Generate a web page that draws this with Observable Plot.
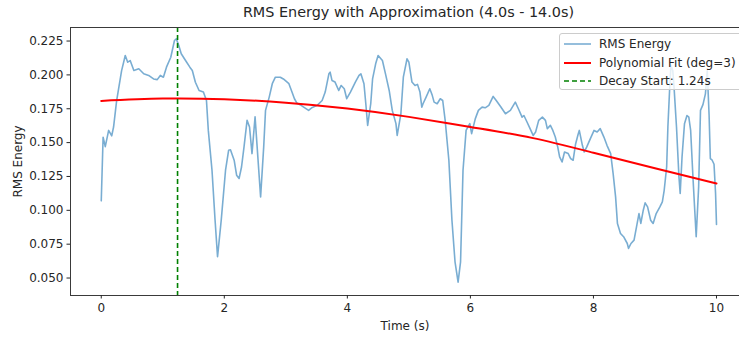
<!DOCTYPE html>
<html>
<head>
<meta charset="utf-8">
<script src="https://cdn.jsdelivr.net/npm/d3@7"></script>
<script src="https://cdn.jsdelivr.net/npm/@observablehq/plot@0.6"></script>
<style>
  html, body { margin: 0; padding: 0; background: #fff; }
  #wrap { position: relative; width: 739px; height: 338px; overflow: hidden; font-family: "DejaVu Sans", sans-serif; }
  #title { height: 20px; line-height: 24px; text-align: center; font-size: 14.4px; color: #262626; padding-left: 78px; box-sizing: border-box; white-space: nowrap; }
  #legend { position: absolute; left: 559px; top: 33px; width: 200px; height: 57px; background: rgba(255,255,255,0.8); border: 1px solid #cccccc; border-radius: 3px; box-sizing: border-box; font-size: 12px; color: #262626; }
  .row { position: absolute; left: 0; height: 18px; display: flex; align-items: center; white-space: nowrap; }
  .row svg { margin-left: 4px; margin-right: 8px; }
</style>
</head>
<body>
<div id="wrap">
  <div id="title"></div>
  <div id="chart"></div>
  <div id="legend"></div>
</div>
<script>
const titleText = "RMS Energy with Approximation (4.0s - 14.0s)";
const xLabel = "Time (s)";
const yLabel = "RMS Energy";
const xTicks = [0, 2, 4, 6, 8, 10];
const yTicks = [0.05, 0.075, 0.1, 0.125, 0.15, 0.175, 0.2, 0.225];
const xDomain = [-0.5, 10.374];
const yDomain = [0.0371, 0.235];
const decayStart = 1.24;
const legendLabels = ["RMS Energy", "Polynomial Fit (deg=3)", "Decay Start: 1.24s"];

// RMS energy
const rmsTime = [
  0.00,0.03,0.065,0.12,0.17,0.20,0.25,0.33,0.39,0.43,0.47,0.53,0.61,0.69,0.77,0.85,0.91,0.96,1.01,1.06,
  1.13,1.19,1.22,1.26,1.30,1.37,1.44,1.48,1.53,1.59,1.66,1.71,1.74,1.80,1.85,1.89,1.95,2.02,2.07,2.10,
  2.16,2.20,2.24,2.28,2.32,2.37,2.41,2.45,2.50,2.59,2.64,2.67,2.73,2.78,2.83,2.91,2.96,3.05,3.10,3.14,
  3.18,3.23,3.29,3.37,3.43,3.51,3.59,3.64,3.70,3.72,3.75,3.80,3.86,3.90,3.95,3.99,4.05,4.13,4.19,4.22,
  4.27,4.30,4.33,4.38,4.41,4.46,4.50,4.57,4.62,4.68,4.73,4.79,4.81,4.87,4.91,4.97,5.00,5.05,5.10,5.14,
  5.18,5.21,5.23,5.28,5.34,5.38,5.41,5.46,5.51,5.55,5.59,5.65,5.70,5.75,5.80,5.84,5.88,5.93,5.99,6.02,
  6.08,6.13,6.19,6.24,6.30,6.37,6.42,6.49,6.57,6.65,6.73,6.78,6.84,6.87,6.92,6.97,7.02,7.06,7.11,7.17,
  7.22,7.25,7.30,7.34,7.38,7.42,7.45,7.49,7.53,7.59,7.63,7.67,7.71,7.75,7.77,7.82,7.85,7.89,7.95,8.01,
  8.06,8.11,8.17,8.22,8.28,8.32,8.36,8.39,8.44,8.49,8.55,8.57,8.61,8.66,8.70,8.74,8.77,8.81,8.84,8.88,
  8.93,8.97,9.02,9.08,9.12,9.15,9.19,9.21,9.24,9.26,9.29,9.31,9.35,9.39,9.41,9.44,9.48,9.52,9.55,9.58,
  9.62,9.67,9.71,9.74,9.78,9.82,9.85,9.88,9.90,9.93,9.96,9.985,10.00
];
const rmsValue = [
  0.107,0.154,0.147,0.159,0.155,0.1615,0.181,0.203,0.2143,0.2094,0.2106,0.2033,0.2045,0.2008,0.1996,0.197,0.1965,0.1996,0.1983,0.2057,
  0.213,0.2254,0.2266,0.2217,0.2156,0.2106,0.2057,0.2033,0.1946,0.1885,0.1873,0.1811,0.159,0.1296,0.0927,0.0657,0.0927,0.1296,0.1443,0.1447,
  0.137,0.1259,0.1235,0.132,0.1467,0.1664,0.1615,0.1419,0.169,0.1099,0.1467,0.1738,0.1836,0.1935,0.1983,0.1983,0.197,0.1935,0.1873,0.1824,
  0.1792,0.178,0.1762,0.1738,0.176,0.1775,0.1811,0.1873,0.2008,0.202,0.1959,0.1947,0.1885,0.1922,0.1898,0.1824,0.1873,0.1947,0.1996,0.2008,
  0.1935,0.1787,0.1627,0.1787,0.197,0.2082,0.2143,0.2106,0.2008,0.1885,0.1738,0.164,0.1553,0.1713,0.1983,0.2119,0.2094,0.1947,0.1922,0.193,
  0.1873,0.1762,0.1787,0.1836,0.1898,0.1849,0.1799,0.1787,0.1824,0.1811,0.1664,0.137,0.0927,0.062,0.047,0.062,0.1296,0.159,0.164,0.1566,
  0.1677,0.1738,0.1762,0.1757,0.1775,0.1841,0.1811,0.1767,0.1713,0.1738,0.1799,0.175,0.1688,0.17,0.1652,0.1603,0.1553,0.1578,0.1664,0.1688,
  0.1664,0.1603,0.1627,0.159,0.1541,0.1467,0.1394,0.1357,0.1431,0.1419,0.1382,0.137,0.149,0.156,0.159,0.148,0.1431,0.1467,0.1529,0.159,
  0.1578,0.1603,0.1541,0.148,0.1419,0.1271,0.1099,0.0903,0.0829,0.0805,0.0755,0.0719,0.0755,0.078,0.0878,0.0976,0.0903,0.1001,0.1055,0.1025,
  0.0927,0.0903,0.0976,0.1025,0.1062,0.1148,0.132,0.1615,0.191,0.207,0.203,0.191,0.1615,0.1246,0.1124,0.1394,0.164,0.170,0.1688,0.159,
  0.1222,0.0805,0.1173,0.1738,0.178,0.186,0.203,0.17,0.1382,0.137,0.134,0.1124,0.0895
];

// Polynomial fit (at whole seconds)
const fitTime = [0, 1, 2, 3, 4, 5, 6, 7, 8, 9, 10];
const fitValue = [0.1808, 0.1825, 0.1820, 0.1795, 0.1752, 0.1690, 0.1615, 0.1535, 0.1425, 0.1310, 0.1198];

const rms = rmsTime.map((t, i) => ({t, v: rmsValue[i]}));
const fit = fitTime.map((t, i) => ({t, v: fitValue[i]}));

document.getElementById("title").textContent = titleText;

const chart = Plot.plot({
  width: 739,
  height: 318,
  marginLeft: 70,
  marginRight: 0,
  marginTop: 7,
  marginBottom: 43,
  style: {fontFamily: "DejaVu Sans, sans-serif", fontSize: "12px", color: "#262626", background: "transparent", overflow: "visible"},
  x: {domain: xDomain},
  y: {domain: yDomain},
  marks: [
    Plot.lineY(rms, {x: "t", y: "v", stroke: "#1f77b4", strokeOpacity: 0.6, strokeWidth: 1.6}),
    Plot.lineY(fit, {x: "t", y: "v", stroke: "#ff0000", strokeWidth: 2, curve: "natural"}),
    Plot.ruleX([decayStart], {stroke: "#008000", strokeWidth: 1.6, strokeDasharray: "5,3"}),
    Plot.ruleY([yDomain[0], yDomain[1]], {stroke: "#3a3a3a", strokeWidth: 1}),
    Plot.ruleX([xDomain[0]], {stroke: "#3a3a3a", strokeWidth: 1}),
    Plot.axisX(xTicks, {tickSize: 3.5, tickPadding: 4, label: xLabel, labelAnchor: "center", labelArrow: "none", labelOffset: 34, fontSize: 12}),
    Plot.axisY(yTicks, {tickSize: 3.5, tickPadding: 3.5, tickFormat: d3.format(".3f"), label: yLabel, labelAnchor: "center", labelArrow: "none", labelOffset: 57, fontSize: 12})
  ]
});
document.getElementById("chart").appendChild(chart);

const colors = ["#1f77b4", "#ff0000", "#008000"];
const opac = [0.6, 1, 1];
const widths = [1.6, 2, 1.6];
const dashes = [null, null, "5,3"];
const lg = document.getElementById("legend");
legendLabels.forEach((lab, i) => {
  const row = document.createElement("div");
  row.className = "row";
  row.style.top = (1 + i * 18.5) + "px";
  row.innerHTML = `<svg width="27" height="10"><line x1="0" x2="27" y1="5" y2="5" stroke="${colors[i]}" stroke-opacity="${opac[i]}" stroke-width="${widths[i]}" ${dashes[i] ? `stroke-dasharray="${dashes[i]}"` : ""}/></svg><span>${lab}</span>`;
  lg.appendChild(row);
});
</script>
</body>
</html>
